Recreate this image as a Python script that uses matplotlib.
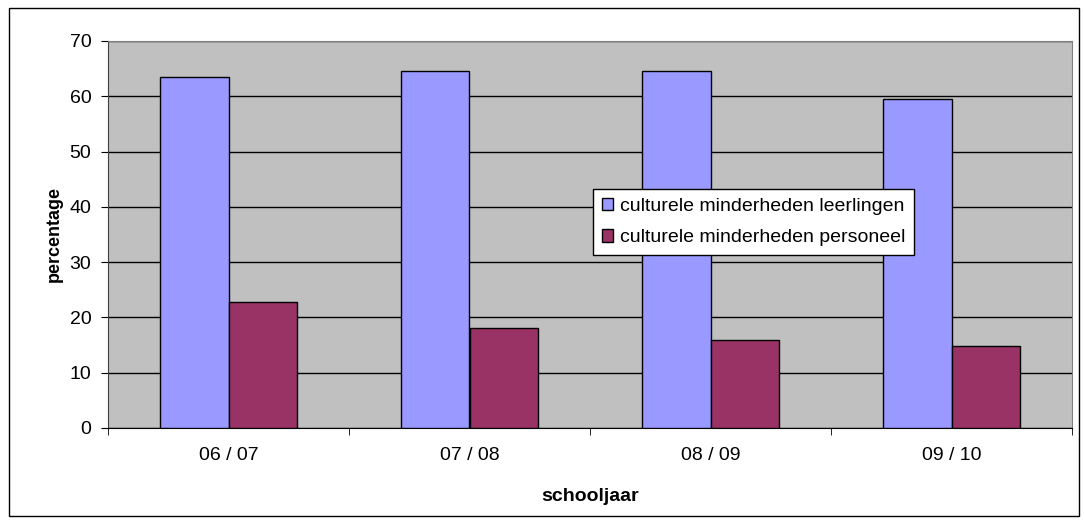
import matplotlib
matplotlib.use("Agg")
import matplotlib.pyplot as plt
from matplotlib.patches import Rectangle
import numpy as np

categories = ["06 / 07", "07 / 08", "08 / 09", "09 / 10"]
leerlingen = [63.4, 64.6, 64.6, 59.5]
personeel = [22.8, 18.0, 15.9, 14.9]
series_names = ["culturele minderheden leerlingen", "culturele minderheden personeel"]
yticks = [0, 10, 20, 30, 40, 50, 60, 70]

plt.rcParams['font.family'] = ['Liberation Sans', 'DejaVu Sans']

W, H = 1084, 526
fig = plt.figure(figsize=(W / 100, H / 100), dpi=100)
fig.patch.set_facecolor('white')
# outer border
fig.patches.append(Rectangle((9 / W, 1 - 516 / H), (1079 - 9) / W, (516 - 8) / H,
                             transform=fig.transFigure, fill=False, edgecolor='black', lw=1))

ax = fig.add_axes([108 / W, 1 - 428 / H, (1072 - 108) / W, (428 - 41) / H])
ax.set_facecolor('#C0C0C0')

x = np.arange(len(categories))
bw = 0.286
ax.bar(x - bw / 2, leerlingen, bw, color='#9999FF', edgecolor='black', lw=1, label=series_names[0], zorder=3)
ax.bar(x + bw / 2, personeel, bw, color='#993366', edgecolor='black', lw=1, label=series_names[1], zorder=3)

ax.set_xlim(-0.5, len(categories) - 0.5)
ax.set_ylim(0, 70)
ax.set_yticks(yticks)
ax.set_yticklabels([str(v) for v in yticks], fontsize=14)
ax.yaxis.grid(True, color='black', lw=1, zorder=1)
ax.set_axisbelow(True)

ax.set_xticks(x)
ax.set_xticklabels(categories, fontsize=14)
ax.tick_params(axis='x', length=0, pad=14)
ax.set_xticks(np.arange(len(categories) + 1) - 0.5, minor=True)
ax.tick_params(axis='x', which='minor', length=5, color='black', direction='out')
ax.tick_params(axis='y', length=5, color='black', direction='out', pad=7)

for s in ['top', 'right']:
    ax.spines[s].set_color('#808080')
ax.spines['left'].set_color('#404040')
ax.spines['bottom'].set_color('black')

ax.set_ylabel('percentage', fontsize=13, fontweight='bold', labelpad=5)
ax.set_xlabel('schooljaar', fontsize=14, fontweight='bold', labelpad=17)

leg = ax.legend(loc='upper left', bbox_to_anchor=((593 - 108) / (1072 - 108), (428 - 189) / (428 - 41)),
                frameon=True, fancybox=False, edgecolor='black', framealpha=1, fontsize=14,
                handlelength=0.6, handleheight=0.6, handletextpad=0.35, borderpad=0.45,
                labelspacing=0.75, borderaxespad=0)
leg.get_frame().set_linewidth(1)

fig.savefig('out.png', dpi=100)
